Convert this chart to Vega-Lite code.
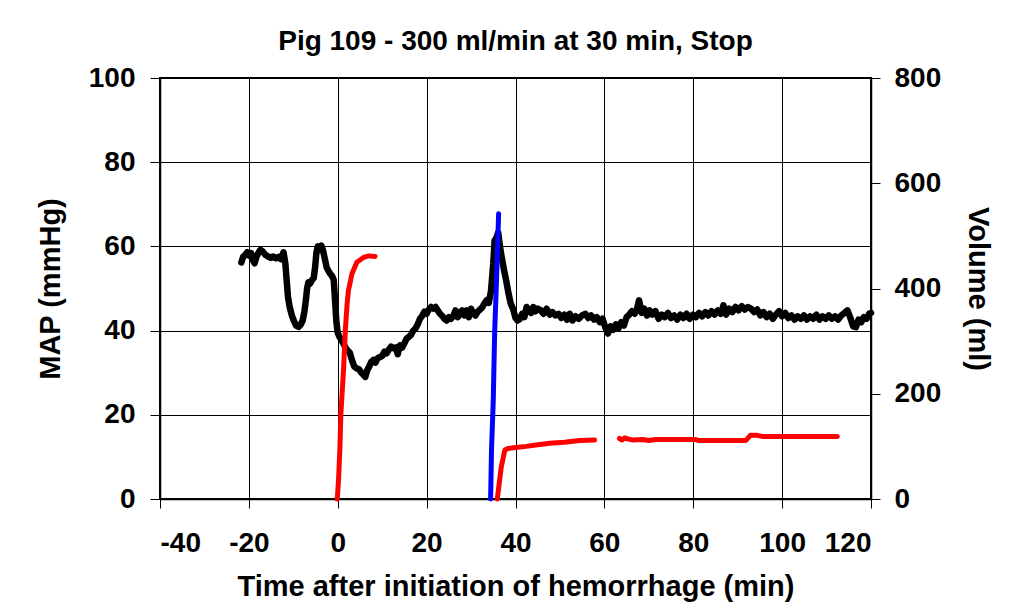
{
  "$schema": "https://vega.github.io/schema/vega-lite/v6.json",
  "autosize": {"type": "none"},
  "width": 711,
  "height": 421,
  "padding": {"left": 160, "top": 78, "right": 139, "bottom": 111},
  "background": "white",
  "title": {
    "text": "Pig 109 - 300 ml/min at 30 min, Stop",
    "font": "Liberation Sans",
    "fontSize": 28,
    "fontWeight": "bold",
    "color": "black",
    "anchor": "middle",
    "offset": 8
  },
  "config": {
    "view": {"stroke": "black", "strokeWidth": 2},
    "axis": {
      "labelFont": "Liberation Sans",
      "labelFontSize": 28,
      "labelFontWeight": "bold",
      "labelColor": "black",
      "titleFont": "Liberation Sans",
      "titleFontSize": 29,
      "titleFontWeight": "bold",
      "titleColor": "black",
      "domainColor": "black",
      "domainWidth": 1.5,
      "tickColor": "black",
      "tickWidth": 1,
      "gridColor": "black",
      "gridWidth": 1,
      "gridOpacity": 1,
      "labelExpr": "'' + datum.value"
    }
  },
  "datasets": {
    "map": [
      {"t": -21.7, "v": 56.2}, {"t": -21.3, "v": 57.5}, {"t": -20.8, "v": 58.0}, {"t": -20.4, "v": 58.6},
      {"t": -19.9, "v": 57.8}, {"t": -19.5, "v": 58.4}, {"t": -19.0, "v": 56.5}, {"t": -18.7, "v": 56.0},
      {"t": -18.3, "v": 57.5}, {"t": -17.8, "v": 58.6}, {"t": -17.4, "v": 59.2}, {"t": -16.9, "v": 58.8},
      {"t": -16.3, "v": 58.0}, {"t": -15.7, "v": 57.6}, {"t": -15.1, "v": 57.3}, {"t": -14.5, "v": 57.6},
      {"t": -13.9, "v": 57.2}, {"t": -13.3, "v": 57.5}, {"t": -12.8, "v": 57.0}, {"t": -12.2, "v": 58.6},
      {"t": -11.8, "v": 56.0}, {"t": -11.5, "v": 52.0}, {"t": -11.2, "v": 48.0}, {"t": -10.8, "v": 45.5},
      {"t": -10.3, "v": 43.5}, {"t": -9.9, "v": 42.4}, {"t": -9.4, "v": 41.2}, {"t": -8.8, "v": 40.9},
      {"t": -8.3, "v": 41.5}, {"t": -7.9, "v": 42.4}, {"t": -7.5, "v": 44.5}, {"t": -7.2, "v": 47.0},
      {"t": -6.9, "v": 50.0}, {"t": -6.6, "v": 51.5}, {"t": -6.2, "v": 51.2}, {"t": -5.8, "v": 52.0},
      {"t": -5.4, "v": 52.5}, {"t": -5.1, "v": 55.0}, {"t": -4.8, "v": 58.5}, {"t": -4.5, "v": 60.0},
      {"t": -4.1, "v": 59.2}, {"t": -3.7, "v": 60.2}, {"t": -3.3, "v": 59.0}, {"t": -2.9, "v": 57.0},
      {"t": -2.5, "v": 55.0}, {"t": -2.1, "v": 54.2}, {"t": -1.7, "v": 53.5}, {"t": -1.3, "v": 53.0},
      {"t": -0.9, "v": 52.0}, {"t": -0.6, "v": 47.0}, {"t": -0.3, "v": 42.0}, {"t": 0.0, "v": 39.5},
      {"t": 0.4, "v": 38.5}, {"t": 0.8, "v": 37.8}, {"t": 1.3, "v": 36.9}, {"t": 1.7, "v": 36.0},
      {"t": 2.2, "v": 35.3}, {"t": 2.7, "v": 34.8}, {"t": 3.2, "v": 33.0}, {"t": 3.7, "v": 31.5},
      {"t": 4.3, "v": 31.0}, {"t": 4.8, "v": 30.8}, {"t": 5.3, "v": 30.0}, {"t": 5.8, "v": 29.5},
      {"t": 6.2, "v": 29.0}, {"t": 6.6, "v": 30.5}, {"t": 7.1, "v": 31.5}, {"t": 7.5, "v": 32.5},
      {"t": 8.0, "v": 33.0}, {"t": 8.5, "v": 32.4}, {"t": 9.0, "v": 33.5}, {"t": 9.5, "v": 33.7},
      {"t": 10.0, "v": 34.0}, {"t": 10.5, "v": 35.0}, {"t": 11.0, "v": 34.6}, {"t": 11.5, "v": 35.5},
      {"t": 12.0, "v": 36.2}, {"t": 12.5, "v": 35.8}, {"t": 13.0, "v": 36.0}, {"t": 13.5, "v": 34.4},
      {"t": 14.0, "v": 36.5}, {"t": 14.5, "v": 36.0}, {"t": 15.0, "v": 37.0}, {"t": 15.5, "v": 38.1},
      {"t": 16.0, "v": 38.5}, {"t": 16.5, "v": 39.0}, {"t": 17.0, "v": 40.0}, {"t": 17.5, "v": 40.5},
      {"t": 18.0, "v": 41.5}, {"t": 18.5, "v": 42.8}, {"t": 19.0, "v": 43.5}, {"t": 19.5, "v": 44.5},
      {"t": 20.0, "v": 44.0}, {"t": 20.5, "v": 45.0}, {"t": 21.0, "v": 45.6}, {"t": 21.5, "v": 45.2},
      {"t": 22.0, "v": 45.6}, {"t": 22.5, "v": 44.8}, {"t": 23.0, "v": 44.0}, {"t": 23.5, "v": 43.5},
      {"t": 24.0, "v": 42.8}, {"t": 24.5, "v": 42.4}, {"t": 25.0, "v": 43.2}, {"t": 25.5, "v": 42.8},
      {"t": 26.0, "v": 43.5}, {"t": 26.5, "v": 44.8}, {"t": 27.0, "v": 43.2}, {"t": 27.5, "v": 44.0},
      {"t": 28.0, "v": 44.8}, {"t": 28.5, "v": 43.6}, {"t": 29.0, "v": 44.8}, {"t": 29.5, "v": 43.2},
      {"t": 30.0, "v": 45.2}, {"t": 30.5, "v": 44.0}, {"t": 31.0, "v": 43.6}, {"t": 31.5, "v": 44.5},
      {"t": 32.0, "v": 45.0}, {"t": 32.5, "v": 45.5}, {"t": 33.0, "v": 46.4}, {"t": 33.5, "v": 47.2},
      {"t": 34.0, "v": 46.6}, {"t": 34.5, "v": 49.5}, {"t": 35.0, "v": 56.0}, {"t": 35.3, "v": 61.4},
      {"t": 35.7, "v": 62.0}, {"t": 36.1, "v": 63.3}, {"t": 36.5, "v": 60.0}, {"t": 36.9, "v": 57.4},
      {"t": 37.4, "v": 54.5}, {"t": 37.9, "v": 51.9}, {"t": 38.4, "v": 49.0}, {"t": 38.9, "v": 46.5},
      {"t": 39.5, "v": 45.0}, {"t": 40.0, "v": 43.0}, {"t": 40.5, "v": 42.4}, {"t": 41.0, "v": 42.8},
      {"t": 41.5, "v": 44.0}, {"t": 42.0, "v": 43.2}, {"t": 42.5, "v": 45.6}, {"t": 43.0, "v": 45.0},
      {"t": 43.5, "v": 44.2}, {"t": 44.0, "v": 45.6}, {"t": 44.5, "v": 44.6}, {"t": 45.0, "v": 45.2},
      {"t": 45.7, "v": 44.8}, {"t": 46.3, "v": 44.0}, {"t": 47.0, "v": 45.2}, {"t": 47.7, "v": 43.8},
      {"t": 48.3, "v": 44.4}, {"t": 49.0, "v": 43.6}, {"t": 49.7, "v": 44.0}, {"t": 50.3, "v": 43.0},
      {"t": 51.0, "v": 43.8}, {"t": 51.6, "v": 42.6}, {"t": 52.2, "v": 44.0}, {"t": 52.8, "v": 42.4},
      {"t": 53.5, "v": 43.4}, {"t": 54.2, "v": 42.8}, {"t": 55.0, "v": 43.6}, {"t": 55.7, "v": 44.0},
      {"t": 56.4, "v": 43.0}, {"t": 57.0, "v": 43.6}, {"t": 57.7, "v": 42.6}, {"t": 58.3, "v": 43.2},
      {"t": 59.0, "v": 42.0}, {"t": 59.6, "v": 42.8}, {"t": 60.2, "v": 40.8}, {"t": 60.8, "v": 39.3},
      {"t": 61.4, "v": 41.0}, {"t": 62.0, "v": 40.2}, {"t": 62.6, "v": 41.5}, {"t": 63.2, "v": 40.6},
      {"t": 63.8, "v": 42.0}, {"t": 64.4, "v": 41.2}, {"t": 65.0, "v": 43.2}, {"t": 65.6, "v": 43.8},
      {"t": 66.2, "v": 44.6}, {"t": 66.8, "v": 44.0}, {"t": 67.3, "v": 45.0}, {"t": 67.8, "v": 47.2},
      {"t": 68.4, "v": 44.2}, {"t": 69.0, "v": 45.2}, {"t": 69.6, "v": 43.6}, {"t": 70.2, "v": 44.8},
      {"t": 70.8, "v": 43.8}, {"t": 71.5, "v": 44.6}, {"t": 72.2, "v": 42.8}, {"t": 72.9, "v": 43.8},
      {"t": 73.6, "v": 43.2}, {"t": 74.3, "v": 44.2}, {"t": 75.0, "v": 43.0}, {"t": 75.7, "v": 43.6},
      {"t": 76.4, "v": 42.6}, {"t": 77.1, "v": 43.8}, {"t": 77.8, "v": 43.0}, {"t": 78.5, "v": 44.0},
      {"t": 79.2, "v": 42.8}, {"t": 79.9, "v": 43.8}, {"t": 80.6, "v": 43.2}, {"t": 81.3, "v": 44.2},
      {"t": 82.0, "v": 43.4}, {"t": 82.7, "v": 44.4}, {"t": 83.4, "v": 43.6}, {"t": 84.1, "v": 44.6},
      {"t": 84.8, "v": 43.8}, {"t": 85.5, "v": 44.8}, {"t": 86.2, "v": 44.0}, {"t": 86.8, "v": 46.0},
      {"t": 87.4, "v": 43.8}, {"t": 88.1, "v": 45.2}, {"t": 88.8, "v": 44.4}, {"t": 89.5, "v": 45.6},
      {"t": 90.2, "v": 44.8}, {"t": 90.9, "v": 45.8}, {"t": 91.6, "v": 45.0}, {"t": 92.3, "v": 45.6},
      {"t": 93.0, "v": 45.2}, {"t": 93.7, "v": 44.4}, {"t": 94.4, "v": 45.0}, {"t": 95.1, "v": 43.6},
      {"t": 95.8, "v": 44.4}, {"t": 96.5, "v": 43.2}, {"t": 97.2, "v": 44.0}, {"t": 97.9, "v": 42.8},
      {"t": 98.6, "v": 43.8}, {"t": 99.3, "v": 44.6}, {"t": 100.0, "v": 43.4}, {"t": 100.7, "v": 44.2},
      {"t": 101.4, "v": 43.0}, {"t": 102.1, "v": 43.6}, {"t": 102.8, "v": 42.6}, {"t": 103.5, "v": 43.4},
      {"t": 104.2, "v": 42.8}, {"t": 104.9, "v": 43.6}, {"t": 105.6, "v": 42.6}, {"t": 106.3, "v": 43.4},
      {"t": 107.0, "v": 42.8}, {"t": 107.7, "v": 43.8}, {"t": 108.4, "v": 42.6}, {"t": 109.1, "v": 43.4},
      {"t": 109.8, "v": 42.8}, {"t": 110.5, "v": 43.6}, {"t": 111.2, "v": 42.8}, {"t": 111.9, "v": 43.4},
      {"t": 112.6, "v": 42.6}, {"t": 113.3, "v": 43.6}, {"t": 114.0, "v": 44.2}, {"t": 114.7, "v": 44.8},
      {"t": 115.3, "v": 43.2}, {"t": 116.0, "v": 41.0}, {"t": 116.6, "v": 40.8}, {"t": 117.2, "v": 42.6},
      {"t": 117.8, "v": 42.0}, {"t": 118.4, "v": 43.2}, {"t": 119.0, "v": 42.8}, {"t": 119.6, "v": 44.0},
      {"t": 120.0, "v": 44.2}
    ],
    "vol": [
      {"seg": "A", "c": "red", "t": -0.1, "ml": 0}, {"seg": "A", "c": "red", "t": 0.2, "ml": 40},
      {"seg": "A", "c": "red", "t": 0.5, "ml": 100}, {"seg": "A", "c": "red", "t": 0.7, "ml": 162},
      {"seg": "A", "c": "red", "t": 1.3, "ml": 245}, {"seg": "A", "c": "red", "t": 1.7, "ml": 320},
      {"seg": "A", "c": "red", "t": 2.1, "ml": 370}, {"seg": "A", "c": "red", "t": 2.4, "ml": 396},
      {"seg": "A", "c": "red", "t": 3.2, "ml": 428}, {"seg": "A", "c": "red", "t": 4.3, "ml": 450},
      {"seg": "A", "c": "red", "t": 5.8, "ml": 459}, {"seg": "A", "c": "red", "t": 7.0, "ml": 462},
      {"seg": "A", "c": "red", "t": 8.4, "ml": 461},
      {"seg": "B", "c": "blue", "t": 34.4, "ml": 0}, {"seg": "B", "c": "blue", "t": 34.6, "ml": 93},
      {"seg": "B", "c": "blue", "t": 35.0, "ml": 188}, {"seg": "B", "c": "blue", "t": 35.3, "ml": 314},
      {"seg": "B", "c": "blue", "t": 35.7, "ml": 409}, {"seg": "B", "c": "blue", "t": 36.2, "ml": 542},
      {"seg": "C", "c": "red", "t": 35.9, "ml": 0}, {"seg": "C", "c": "red", "t": 36.8, "ml": 61},
      {"seg": "C", "c": "red", "t": 37.6, "ml": 93}, {"seg": "C", "c": "red", "t": 38.3, "ml": 96},
      {"seg": "C", "c": "red", "t": 40.0, "ml": 98}, {"seg": "C", "c": "red", "t": 42.4, "ml": 100},
      {"seg": "C", "c": "red", "t": 45.0, "ml": 103}, {"seg": "C", "c": "red", "t": 47.7, "ml": 106},
      {"seg": "C", "c": "red", "t": 51.0, "ml": 108}, {"seg": "C", "c": "red", "t": 54.4, "ml": 111},
      {"seg": "C", "c": "red", "t": 57.8, "ml": 112},
      {"seg": "D", "c": "red", "t": 63.4, "ml": 115}, {"seg": "D", "c": "red", "t": 64.0, "ml": 112},
      {"seg": "D", "c": "red", "t": 64.5, "ml": 116}, {"seg": "D", "c": "red", "t": 66.4, "ml": 112},
      {"seg": "D", "c": "red", "t": 68.6, "ml": 113}, {"seg": "D", "c": "red", "t": 70.0, "ml": 111},
      {"seg": "D", "c": "red", "t": 71.6, "ml": 113}, {"seg": "D", "c": "red", "t": 80.6, "ml": 113},
      {"seg": "D", "c": "red", "t": 81.3, "ml": 111}, {"seg": "D", "c": "red", "t": 91.8, "ml": 111},
      {"seg": "D", "c": "red", "t": 92.9, "ml": 121}, {"seg": "D", "c": "red", "t": 94.4, "ml": 121},
      {"seg": "D", "c": "red", "t": 95.5, "ml": 119}, {"seg": "D", "c": "red", "t": 112.4, "ml": 119}
    ]
  },
  "layer": [
    {
      "data": {"name": "map"},
      "mark": {"type": "line", "color": "black", "strokeWidth": 6.5, "strokeJoin": "round", "strokeCap": "round"},
      "encoding": {
        "x": {
          "field": "t", "type": "quantitative",
          "scale": {"domain": [-40, 120], "nice": false, "zero": false},
          "axis": {
            "values": [-40, -20, 0, 20, 40, 60, 80, 100, 120],
            "title": "Time after initiation of hemorrhage (min)",
            "grid": true, "tickSize": 9, "labelPadding": 21, "titlePadding": 15
          }
        },
        "y": {
          "field": "v", "type": "quantitative",
          "scale": {"domain": [0, 100], "nice": false},
          "axis": {
            "values": [0, 20, 40, 60, 80, 100],
            "title": "MAP (mmHg)", "orient": "left",
            "grid": true, "tickSize": 10, "labelPadding": 15, "titlePadding": 23
          }
        }
      }
    },
    {
      "data": {"name": "vol"},
      "mark": {"type": "line", "strokeWidth": 5, "strokeJoin": "round", "strokeCap": "round"},
      "encoding": {
        "x": {"field": "t", "type": "quantitative"},
        "y": {
          "field": "ml", "type": "quantitative",
          "scale": {"domain": [0, 800], "nice": false},
          "axis": {
            "values": [0, 200, 400, 600, 800],
            "title": "Volume (ml)", "orient": "right",
            "grid": false, "tickSize": 9, "labelPadding": 14, "titlePadding": 22
          }
        },
        "color": {
          "field": "c", "type": "nominal",
          "scale": {"domain": ["red", "blue"], "range": ["#ff0000", "#0000ff"]},
          "legend": null
        },
        "detail": {"field": "seg", "type": "nominal"}
      }
    }
  ],
  "resolve": {"scale": {"y": "independent"}}
}
